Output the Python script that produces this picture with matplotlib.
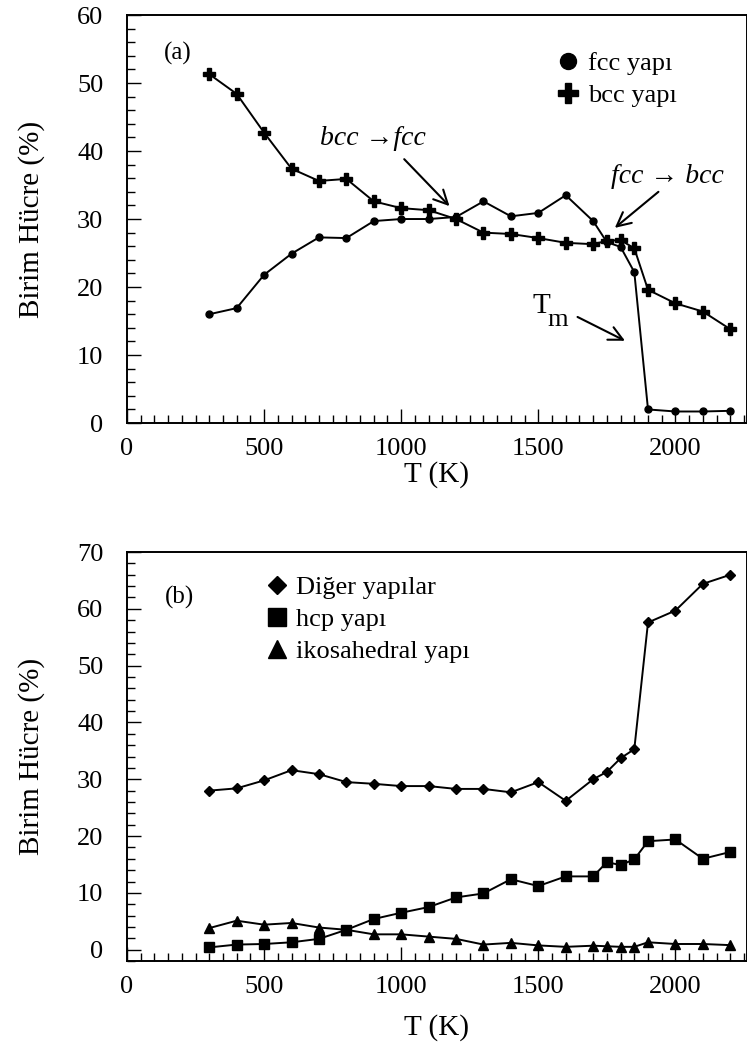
import numpy as np
import matplotlib
matplotlib.use("Agg")
import matplotlib.pyplot as plt
from matplotlib.lines import Line2D
from matplotlib.ticker import MultipleLocator

plt.rcParams['font.family'] = ['Liberation Serif', 'DejaVu Serif']

# --- data ---
T = [300, 400, 500, 600, 700, 800, 900, 1000, 1100, 1200, 1300, 1400,
     1500, 1600, 1700, 1750, 1800, 1850, 1900, 2000, 2100, 2200]

# (a)
fcc = [16.0, 16.9, 21.8, 24.9, 27.3, 27.2, 29.7, 30.0, 30.0, 30.3, 32.6, 30.4,
       30.9, 33.5, 29.7, 26.6, 25.9, 22.2, 2.0, 1.7, 1.7, 1.8]
bcc = [51.3, 48.4, 42.7, 37.4, 35.6, 35.9, 32.6, 31.6, 31.3, 30.0, 28.0, 27.8,
       27.2, 26.5, 26.3, 26.8, 26.9, 25.7, 19.6, 17.6, 16.4, 13.8]

# (b)
diger = [28.0, 28.4, 29.8, 31.6, 30.9, 29.5, 29.2, 28.8, 28.8, 28.3, 28.3, 27.7,
         29.5, 26.2, 30.0, 31.3, 33.7, 35.3, 57.6, 59.7, 64.4, 66.0]
hcp = [0.4, 0.9, 1.0, 1.3, 1.9, 3.5, 5.4, 6.5, 7.5, 9.2, 9.9, 12.4,
       11.2, 12.9, 12.9, 15.4, 14.9, 15.9, 19.1, 19.4, 16.0, 17.2]
ikos = [3.8, 5.1, 4.4, 4.7, 3.9, 3.5, 2.7, 2.7, 2.3, 1.9, 0.9, 1.2,
        0.75, 0.5, 0.7, 0.6, 0.5, 0.5, 1.3, 1.0, 1.0, 0.8]

TICK_FS = 19
LABEL_FS = 21
LEG_FS = 19


def style_axes(ax, ylim, ymax_tick):
    ax.set_xlim(0, 2261)
    ax.set_ylim(*ylim)
    ax.xaxis.set_major_locator(MultipleLocator(500))
    ax.xaxis.set_minor_locator(MultipleLocator(50))
    ax.yaxis.set_major_locator(MultipleLocator(10))
    ax.yaxis.set_minor_locator(MultipleLocator(2))
    ax.tick_params(which='both', direction='in', top=False, right=False,
                   width=1.0, labelsize=TICK_FS)
    ax.tick_params(axis='x', which='both', pad=10.5)
    ax.tick_params(axis='y', which='both', pad=17)
    ax.tick_params(which='major', length=10)
    ax.tick_params(which='minor', length=5.5)
    ax.set_yticks(np.arange(0, ymax_tick + 1, 10))
    for sp in ax.spines.values():
        sp.set_linewidth(1.4)
    ax.set_xlabel('T (K)', fontsize=LABEL_FS)
    ax.set_ylabel('Birim Hücre (%)', fontsize=LABEL_FS)


fig = plt.figure(figsize=(7.47, 10.42), dpi=100)

# ---------------- (a) ----------------
ax1 = fig.add_axes([0.170, 0.594, 0.830, 0.3916])
ax1.plot(T, fcc, color='black', lw=1.4, marker='o', ms=5)
ax1.plot(T, bcc, color='black', lw=1.4, marker='P', ms=9)
style_axes(ax1, (0, 60), 60)
ax1.xaxis.set_label_coords(0.5, -0.092)
ax1.yaxis.set_label_coords(-0.133, 0.5)

ax1.text(0.082, 0.907, '(a)', transform=ax1.transAxes, fontsize=18,
         ha='center', va='center')

h1 = [Line2D([], [], color='black', ls='', marker='o', ms=11.5),
      Line2D([], [], color='black', ls='', marker='P', ms=14)]
ax1.legend(h1, ['fcc yapı', 'bcc yapı'], loc='upper left',
           bbox_to_anchor=(0.694, 0.910), frameon=False, fontsize=LEG_FS,
           handlelength=0.85, handletextpad=0.3, borderpad=0,
           borderaxespad=0, labelspacing=0.33)

arr = dict(arrowstyle='->', lw=1.5, color='black', mutation_scale=25,
           shrinkA=0, shrinkB=0)
ax1.text(898, 41.9, 'bcc →fcc', fontsize=20, style='italic',
         ha='center', va='center')
ax1.annotate('', xy=(1176, 31.9), xytext=(1011, 38.8), arrowprops=arr)
ax1.text(1971, 36.3, 'fcc → bcc', fontsize=20, style='italic',
         ha='center', va='center')
ax1.annotate('', xy=(1779, 28.7), xytext=(1938, 34.0), arrowprops=arr)
ax1.text(1478, 17.2, 'T', fontsize=21, ha='left', va='center')
ax1.annotate('m', xy=(1478, 17.2), xytext=(11, -10), textcoords='offset points',
             fontsize=19, ha='left', va='center')
ax1.annotate('', xy=(1816, 12.1), xytext=(1643, 15.6), arrowprops=arr)

# ---------------- (b) ----------------
ax2 = fig.add_axes([0.170, 0.0777, 0.830, 0.3925])
ax2.plot(T, diger, color='black', lw=1.4, marker='D', ms=5)
ax2.plot(T, hcp, color='black', lw=1.4, marker='s', ms=6.5)
ax2.plot(T, ikos, color='black', lw=1.4, marker='^', ms=6.5)
style_axes(ax2, (-2, 70), 70)
ax2.xaxis.set_label_coords(0.5, -0.13)
ax2.yaxis.set_label_coords(-0.133, 0.5)

ax2.text(0.085, 0.89, '(b)', transform=ax2.transAxes, fontsize=18,
         ha='center', va='center')

h2 = [Line2D([], [], color='black', ls='', marker='D', ms=9),
      Line2D([], [], color='black', ls='', marker='s', ms=13),
      Line2D([], [], color='black', ls='', marker='^', ms=13)]
ax2.legend(h2, ['Diğer yapılar', 'hcp yapı', 'ikosahedral yapı'],
           loc='upper left', bbox_to_anchor=(0.224, 0.943), frameon=False,
           fontsize=LEG_FS, handlelength=0.85, handletextpad=0.3,
           borderpad=0, borderaxespad=0, labelspacing=0.33)

fig.savefig('out.png', dpi=100)
